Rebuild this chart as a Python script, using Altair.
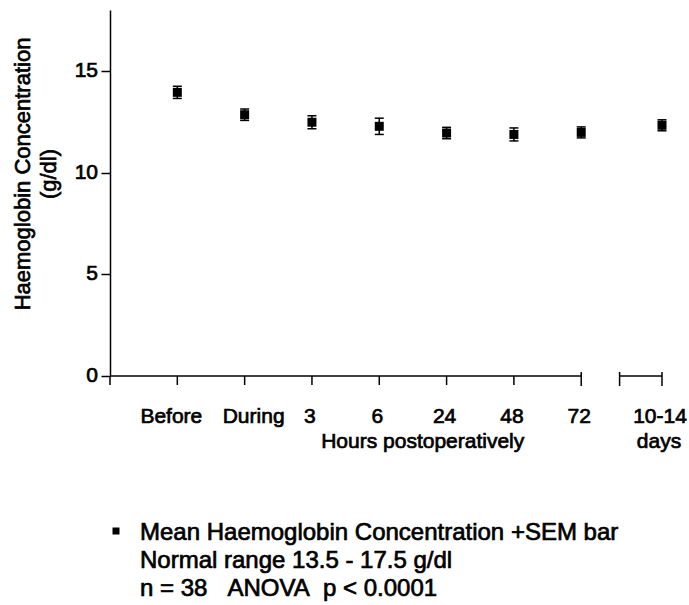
import altair as alt
import pandas as pd

# ---- data ----
categories = ["Before", "During", "3", "6", "24", "48", "72", "10-14"]
positions = [1, 2, 3, 4, 5, 6, 7, 8.2]
means = [13.95, 12.85, 12.48, 12.28, 11.95, 11.88, 11.98, 12.33]
sems = [0.3, 0.28, 0.32, 0.4, 0.28, 0.32, 0.27, 0.27]

y_ticks = [0, 5, 10, 15]
seg_start = [0, 7.57]
seg_end = [7, 8.2]
minor_ticks = [0, 1, 2, 3, 4, 5, 6]
break_ticks = [7, 7.57, 8.2]
group_labels = ["Hours postoperatively", "days"]
group_positions = [4.69, 8.2]
NB = "\u00a0"
legend_lines = [
    "Mean Haemoglobin Concentration +SEM bar",
    "Normal range 13.5 - 17.5 g/dl",
    f"n = 38{NB}{NB}{NB}ANOVA{NB}{NB}p < 0.0001",
]
y_title = ["Haemoglobin Concentration", "(g/dl)"]

FONT = "Liberation Sans"
TXT = dict(font=FONT, color="black", stroke="black", strokeWidth=0.7)

df = pd.DataFrame({"cat": categories, "pos": positions, "mean": means, "sem": sems})
df["lo"] = df["mean"] - df["sem"]
df["hi"] = df["mean"] + df["sem"]

segs = pd.DataFrame({"a": seg_start, "b": seg_end})
ticks = pd.DataFrame({"pos": minor_ticks})
bticks = pd.DataFrame({"pos": break_ticks})
groups = pd.DataFrame({"label": group_labels, "pos": group_positions})
yt = pd.DataFrame({"v": y_ticks})
one = pd.DataFrame({"k": [0]})

xs = alt.Scale(domain=[0, 8.2], nice=False, zero=False)
ys = alt.Scale(domain=[0, 18], nice=False, zero=True)

yaxis = alt.Axis(
    values=y_ticks, tickSize=9, tickWidth=1.5, tickColor="black",
    domainColor="black", domainWidth=1.5, grid=False, labels=False, title=None,
)

base = alt.Chart(df)

points = base.mark_square(size=81, color="black", opacity=1, filled=True).encode(
    x=alt.X("pos:Q", scale=xs, axis=None),
    y=alt.Y("mean:Q", scale=ys, axis=yaxis),
)
err = base.mark_rule(color="black", strokeWidth=1.5).encode(
    x=alt.X("pos:Q"), y=alt.Y("lo:Q"), y2="hi:Q"
)
cap_hi = base.mark_tick(color="black", orient="horizontal", size=9, thickness=1.5, opacity=1).encode(
    x=alt.X("pos:Q"), y=alt.Y("hi:Q")
)
cap_lo = base.mark_tick(color="black", orient="horizontal", size=9, thickness=1.5, opacity=1).encode(
    x=alt.X("pos:Q"), y=alt.Y("lo:Q")
)

axis_line = alt.Chart(segs).mark_rule(color="black", strokeWidth=1.5).encode(
    x=alt.X("a:Q"), x2="b:Q", y=alt.value(366)
)
tick_marks = alt.Chart(ticks).mark_rule(color="black", strokeWidth=1.5).encode(
    x=alt.X("pos:Q"), y=alt.value(366), y2=alt.value(375)
)
break_marks = alt.Chart(bticks).mark_rule(color="black", strokeWidth=1.5).encode(
    x=alt.X("pos:Q"), y=alt.value(362), y2=alt.value(376)
)

def xlabel(filt, dx):
    return base.transform_filter(filt).mark_text(
        fontSize=21, baseline="alphabetic", align="center", dx=dx, **TXT
    ).encode(x=alt.X("pos:Q"), y=alt.value(413), text="cat:N")

xl_before = xlabel(alt.datum.cat == "Before", -6)
xl_during = xlabel(alt.datum.cat == "During", 9)
xl_rest = xlabel((alt.datum.cat != "Before") & (alt.datum.cat != "During"), -2)

glabels = alt.Chart(groups).mark_text(
    fontSize=21, baseline="alphabetic", align="center", dx=-3, **TXT
).encode(x=alt.X("pos:Q"), y=alt.value(438), text="label:N")

ylabels = alt.Chart(yt).mark_text(
    fontSize=21, baseline="middle", align="right", **TXT
).encode(x=alt.value(-12), y=alt.Y("v:Q"), text="v:Q")

ytitle = [
    alt.Chart(one).mark_text(
        fontSize=22, baseline="middle", align="center", angle=270, text=line, **TXT
    ).encode(x=alt.value(-87.5 + 26 * i), y=alt.value(164))
    for i, line in enumerate(y_title)
]

legend_bullet = alt.Chart(one).mark_square(size=49, color="black", opacity=1, filled=True).encode(
    x=alt.value(6), y=alt.value(521)
)
legend_texts = [
    alt.Chart(one).mark_text(
        fontSize=24, align="left", baseline="alphabetic", text=line, **TXT
    ).encode(x=alt.value(30), y=alt.value(530 + 28 * i))
    for i, line in enumerate(legend_lines)
]

chart = alt.layer(
    points, axis_line, tick_marks, break_marks, err, cap_hi, cap_lo,
    xl_before, xl_during, xl_rest, glabels, ylabels, *ytitle,
    legend_bullet, *legend_texts,
).properties(
    width=552, height=366,
    autosize=alt.AutoSizeParams(type="none"),
    padding={"left": 110, "top": 10, "right": 27, "bottom": 229},
).configure_view(stroke=None)

chart.save("out.html", embed_options={"renderer": "svg", "actions": False})
